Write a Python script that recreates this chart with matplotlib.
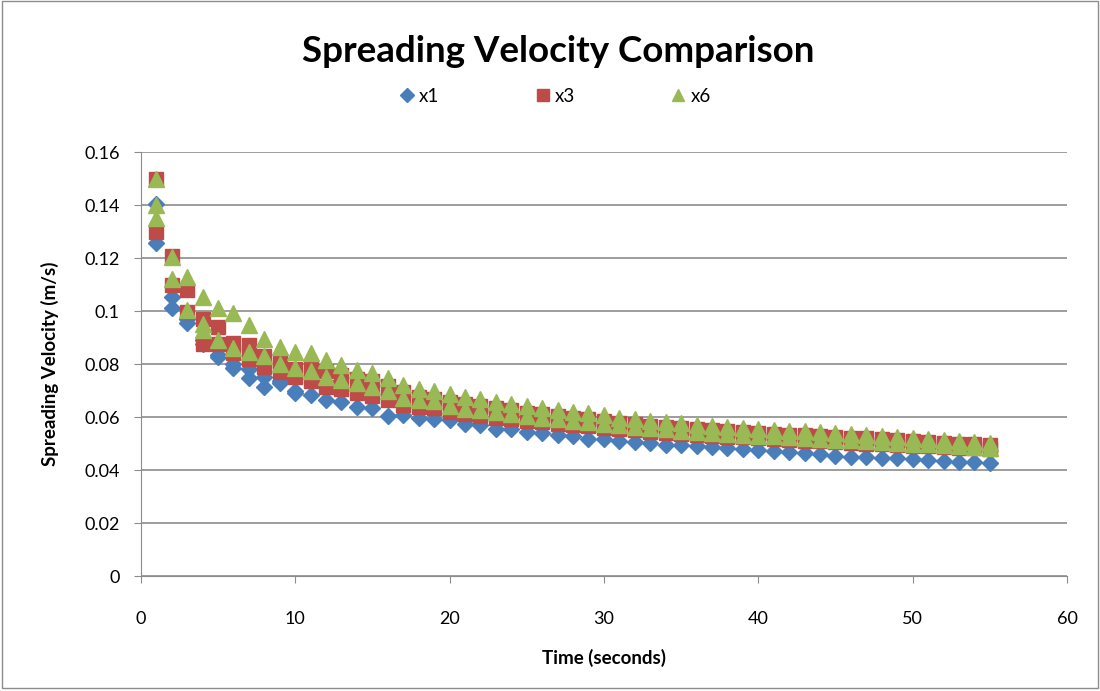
import matplotlib
matplotlib.use("Agg")
import matplotlib.pyplot as plt
from matplotlib.patches import Rectangle

# tiempo (s) y velocidades
t = list(range(1, 56))

x1_lo = [0.1255, 0.101, 0.0955, 0.0875, 0.0828, 0.0784, 0.0746, 0.0714, 0.0727, 0.069,
         0.0683, 0.0664, 0.0658, 0.0639, 0.0634, 0.0605, 0.0608, 0.0597, 0.0591, 0.059,
         0.0572, 0.057, 0.0555, 0.0553, 0.0545, 0.0538, 0.0532, 0.0528, 0.0518, 0.0516,
         0.0511, 0.0507, 0.0501, 0.0496, 0.0494, 0.0489, 0.0486, 0.0482, 0.0479, 0.0476,
         0.0473, 0.0469, 0.0464, 0.0459, 0.0452, 0.045, 0.0448, 0.0446, 0.0444, 0.0441,
         0.0438, 0.0435, 0.0432, 0.0429, 0.0426]
t_x1_hi = [1, 2, 3, 4, 5, 6, 7, 8, 9, 10]
x1_hi = [0.1405, 0.1054, 0.097, 0.089, 0.0835, 0.08, 0.078, 0.075, 0.0735, 0.07]

x3_hi = [0.150, 0.1207, 0.108, 0.097, 0.094, 0.088, 0.087, 0.083, 0.081, 0.078,
         0.079, 0.0775, 0.076, 0.0745, 0.0735, 0.0718, 0.0695, 0.0675, 0.0668, 0.0657,
         0.0648, 0.0641, 0.0633, 0.0625, 0.0617, 0.0611, 0.0603, 0.0597, 0.0591, 0.0584,
         0.0577, 0.0572, 0.0566, 0.0561, 0.0558, 0.0554, 0.0551, 0.0547, 0.0543, 0.054,
         0.0537, 0.0534, 0.0531, 0.0528, 0.0525, 0.0522, 0.0519, 0.0516, 0.0513, 0.051,
         0.0507, 0.0503, 0.05, 0.0497, 0.0494]
x3_lo = [0.130, 0.110, 0.0996, 0.0875, 0.0875, 0.084, 0.082, 0.079, 0.077, 0.075,
         0.0735, 0.0715, 0.0705, 0.069, 0.068, 0.0665, 0.0645, 0.0638, 0.0633, 0.0618,
         0.061, 0.0605, 0.0597, 0.0591, 0.0585, 0.058, 0.0575, 0.057, 0.0565, 0.0559,
         0.0554, 0.055, 0.0545, 0.054, 0.0537, 0.0533, 0.053, 0.0526, 0.0523, 0.052,
         0.0517, 0.0514, 0.0511, 0.0508, 0.0506, 0.0503, 0.05, 0.0497, 0.0495, 0.0492,
         0.0489, 0.0487, 0.0484, 0.0482, 0.048]

x6_hi = [0.150, 0.1205, 0.113, 0.1054, 0.101, 0.0992, 0.0947, 0.0895, 0.0865, 0.0846,
         0.084, 0.0815, 0.0796, 0.0777, 0.0765, 0.0746, 0.0722, 0.0704, 0.0698, 0.0685,
         0.0675, 0.0668, 0.0658, 0.065, 0.0641, 0.0635, 0.0627, 0.062, 0.0614, 0.0606,
         0.0598, 0.0592, 0.0586, 0.058, 0.0576, 0.0571, 0.0567, 0.0562, 0.0558, 0.0555,
         0.0552, 0.0549, 0.0546, 0.0542, 0.0538, 0.0535, 0.0531, 0.0528, 0.0524, 0.0521,
         0.0517, 0.0514, 0.051, 0.0506, 0.0502]
x6_lo = [0.140, 0.112, 0.1004, 0.095, 0.089, 0.086, 0.0845, 0.083, 0.08, 0.0785,
         0.0775, 0.0752, 0.074, 0.0727, 0.0714, 0.07, 0.0672, 0.0665, 0.066, 0.064,
         0.0632, 0.0627, 0.0618, 0.0611, 0.0604, 0.0598, 0.0592, 0.0586, 0.058, 0.0574,
         0.0568, 0.0563, 0.0558, 0.0553, 0.0549, 0.0545, 0.0541, 0.0537, 0.0534, 0.053,
         0.0527, 0.0524, 0.0521, 0.0518, 0.0515, 0.0512, 0.0509, 0.0506, 0.0503, 0.05,
         0.0497, 0.0494, 0.049, 0.0487, 0.0483]
t_x6_extra = [1, 4]
x6_extra = [0.135, 0.093]

azul = "#4a7ebb"
rojo = "#be4b48"
verde = "#98b954"

plt.rcParams['font.family'] = ['Lato', 'DejaVu Sans']

fig = plt.figure(figsize=(11, 6.91), dpi=100)
ax = fig.add_axes([0.128, 0.1664, 0.842, 0.6136])

ax.plot(t, x1_lo, "D", color=azul, ms=8.5, mec=azul, label="x1")
ax.plot(t_x1_hi, x1_hi, "D", color=azul, ms=8.5, mec=azul)
ax.plot(t, x3_hi, "s", color=rojo, ms=10.5, mec=rojo, label="x3")
ax.plot(t, x3_lo, "s", color=rojo, ms=10.5, mec=rojo)
ax.plot(t, x6_hi, "^", color=verde, ms=11, mec=verde, label="x6")
ax.plot(t, x6_lo, "^", color=verde, ms=11, mec=verde)
ax.plot(t_x6_extra, x6_extra, "^", color=verde, ms=11, mec=verde)

ax.set_xlim(0, 60)
ax.set_ylim(0, 0.16)
ax.set_xticks(range(0, 61, 10))
ax.set_yticks([0, 0.02, 0.04, 0.06, 0.08, 0.1, 0.12, 0.14, 0.16])
ax.set_yticklabels(["0", "0.02", "0.04", "0.06", "0.08", "0.1", "0.12", "0.14", "0.16"])
ax.grid(axis="y", color="#8c8c8c", lw=1.2)
ax.set_axisbelow(True)
for s in ["top", "right"]:
    ax.spines[s].set_visible(False)
ax.spines["left"].set_color("#8c8c8c")
ax.spines["bottom"].set_color("#8c8c8c")
ax.tick_params(axis="both", labelsize=13, color="#8c8c8c", length=5)
ax.tick_params(axis="y", pad=10)
ax.tick_params(axis="x", pad=20)

ax.set_xlabel("Time (seconds)", fontsize=13.5, fontweight="bold", labelpad=16)
ax.set_ylabel("Spreading Velocity (m/s)", fontsize=13.5, fontweight="bold", labelpad=18)

fig.text(0.507, 0.925, "Spreading Velocity Comparison", ha="center", va="center",
         fontsize=26.5, fontweight="bold")
fig.legend(loc="center", bbox_to_anchor=(0.503, 0.861), ncol=3, frameon=False,
           fontsize=13.5, columnspacing=4.9, handletextpad=0.05, markerscale=0.8,
           handlelength=1.2)

fig.add_artist(Rectangle((0.002, 0.004), 0.996, 0.994, transform=fig.transFigure,
                         fill=False, ec="#8c8c8c", lw=1))

fig.savefig("out.png", dpi=100)
